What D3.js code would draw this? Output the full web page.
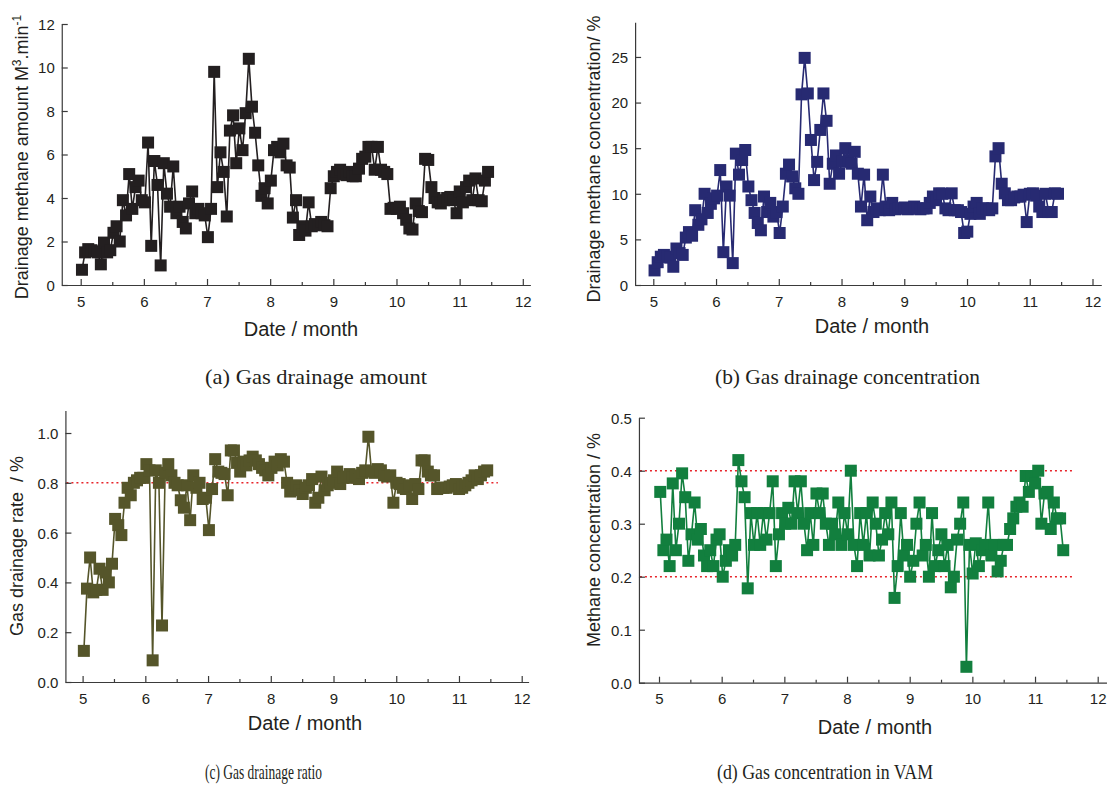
<!DOCTYPE html>
<html>
<head>
<meta charset="utf-8">
<script src="https://cdn.jsdelivr.net/npm/d3@7"></script>
<style>
	body { margin: 0; background: #fff; }
	svg { display: block; }
	.tick text { font-family: "Liberation Sans", Arial, sans-serif; font-size: 15px; fill: #231f20; }
	.domain, .tick line { stroke: #3a3a3a; stroke-width: 1.2; }
	.ttl { font-family: "Liberation Sans", Arial, sans-serif; fill: #231f20; }
	.cap { font-family: "Liberation Serif", "Times New Roman", serif; fill: #231f20; }
</style>
</head>
<body>
<svg id="fig" width="1108" height="785"></svg>
<script>
"use strict";

// Sampling dates (month.fraction), first and last record
var dateStart = 5.02, dateEnd = 11.45;

var monthTicks = [5, 6, 7, 8, 9, 10, 11, 12];
var monthMinor = [5.5, 6.5, 7.5, 8.5, 9.5, 10.5, 11.5];

// (a) drainage methane amount, m3/min
var amountVals = [0.7,1.5,1.65,1.6,1.55,1.5,0.95,1.95,1.5,1.6,
	2.4,2.7,2.0,3.9,3.2,5.1,3.5,4.5,4.8,3.9,
	3.8,6.55,1.8,5.7,4.6,0.9,5.6,4.2,3.6,5.45,
	3.3,3.6,2.9,2.6,3.75,4.3,3.3,3.5,3.3,3.2,
	2.2,3.5,9.8,4.5,6.1,5.2,3.15,7.1,7.8,5.6,
	7.2,6.2,7.9,10.4,8.2,7.0,5.5,4.1,4.45,3.75,
	4.8,6.2,6.35,6.1,6.5,5.5,5.4,3.1,3.9,2.3,
	2.7,2.5,3.8,2.7,2.8,2.75,2.9,2.75,2.7,4.45,
	5.0,5.2,5.3,5.1,5.05,5.2,5.0,5.0,5.35,5.8,
	5.9,6.35,6.35,5.3,6.35,5.3,5.2,5.1,3.5,3.55,
	3.5,3.6,3.3,3.0,2.6,2.55,3.75,3.4,3.35,5.8,
	5.75,4.5,4.0,3.8,3.75,3.9,4.0,4.05,3.9,3.3,
	4.3,3.8,4.5,4.8,3.9,4.9,3.9,3.85,4.8,5.2];
var amountTicks = [0, 2, 4, 6, 8, 10, 12];

// (b) drainage methane concentration, %
var concVals = [1.6,2.5,3.1,3.3,3.1,3.0,2.0,4.0,3.5,3.3,
	5.2,5.8,5.4,8.2,6.6,7.2,10.0,7.9,8.9,9.5,
	9.8,12.6,3.6,10.8,9.8,2.4,14.4,12.1,13.7,14.8,
	10.8,9.3,7.9,6.8,6.0,9.7,8.0,9.0,7.5,8.0,
	5.7,8.6,12.2,13.2,11.9,10.6,10.0,20.9,24.9,21.0,
	15.9,11.5,13.5,17.0,21.0,18.0,11.1,13.3,14.2,12.2,
	13.5,15.0,13.7,13.3,14.6,12.2,8.6,12.1,7.1,9.7,
	8.0,8.4,8.2,12.1,8.6,8.2,9.0,8.3,8.4,8.4,
	8.5,8.3,8.4,8.6,8.4,8.3,8.4,8.4,9.0,9.7,
	9.3,10.05,10.0,8.4,8.2,10.05,8.2,8.2,8.0,5.7,
	5.85,7.8,8.6,9.0,7.8,8.4,8.4,8.2,8.4,14.1,
	15.0,11.1,10.05,9.3,9.3,9.6,9.7,9.7,9.9,6.9,
	10.0,10.05,9.8,8.6,8.0,10.0,8.0,8.0,10.05,10.0];
var concTicks = [0, 5, 10, 15, 20, 25];

// (c) gas drainage ratio
var ratioVals = [0.125,0.375,0.50,0.36,0.37,0.455,0.37,0.44,0.40,0.475,
	0.655,0.63,0.59,0.72,0.78,0.75,0.80,0.81,0.82,0.82,
	0.875,0.85,0.087,0.85,0.80,0.227,0.84,0.875,0.83,0.80,
	0.79,0.73,0.70,0.79,0.65,0.83,0.78,0.80,0.735,0.74,
	0.61,0.775,0.895,0.845,0.84,0.835,0.75,0.93,0.93,0.88,
	0.845,0.885,0.87,0.89,0.905,0.89,0.875,0.86,0.85,0.83,
	0.86,0.885,0.87,0.895,0.885,0.80,0.765,0.78,0.79,0.77,
	0.755,0.78,0.79,0.815,0.72,0.74,0.825,0.77,0.79,0.80,
	0.81,0.845,0.795,0.82,0.825,0.835,0.82,0.83,0.815,0.84,
	0.85,0.985,0.845,0.84,0.855,0.85,0.83,0.825,0.83,0.72,
	0.80,0.795,0.78,0.775,0.79,0.735,0.795,0.775,0.89,0.89,
	0.845,0.83,0.83,0.775,0.78,0.78,0.78,0.785,0.79,0.795,
	0.775,0.78,0.79,0.80,0.81,0.83,0.815,0.83,0.845,0.85];
var ratioTicks = [0, 0.2, 0.4, 0.6, 0.8, 1.0];
var ratioRefs = [0.8];

// (d) methane concentration in ventilation air, %
var vamVals = [0.36,0.25,0.27,0.22,0.376,0.25,0.30,0.395,0.35,0.23,
	0.28,0.34,0.27,0.29,0.24,0.22,0.25,0.22,0.27,0.28,
	0.20,0.23,0.25,0.24,0.26,0.42,0.38,0.35,0.178,0.32,
	0.26,0.32,0.26,0.32,0.27,0.32,0.38,0.22,0.28,0.32,
	0.30,0.33,0.30,0.38,0.32,0.38,0.30,0.25,0.32,0.26,
	0.357,0.32,0.357,0.30,0.26,0.30,0.28,0.34,0.26,0.32,
	0.28,0.40,0.26,0.22,0.32,0.26,0.32,0.24,0.34,0.30,
	0.24,0.27,0.32,0.28,0.34,0.16,0.22,0.32,0.24,0.26,
	0.20,0.23,0.30,0.34,0.24,0.26,0.20,0.32,0.22,0.25,
	0.28,0.22,0.26,0.18,0.20,0.27,0.30,0.34,0.03,0.26,
	0.206,0.263,0.22,0.25,0.26,0.34,0.24,0.26,0.21,0.23,
	0.26,0.26,0.29,0.31,0.332,0.34,0.332,0.39,0.36,0.39,
	0.376,0.40,0.30,0.357,0.36,0.29,0.34,0.31,0.31,0.25];
var vamTicks = [0, 0.1, 0.2, 0.3, 0.4, 0.5];
var vamRefs = [0.2, 0.4];

var svg = d3.select('#fig');

// Draw one panel; geometry is given as pixel positions of month 5 and 12
function drawPanel(p) {
	var k = (p.x12 - p.x5) / 7;
	var x = d3.scaleLinear().domain(p.xDom).
		range([p.x5 + (p.xDom[0] - 5) * k, p.x5 + (p.xDom[1] - 5) * k]);
	var y = d3.scaleLinear().domain(p.yDom).range(p.yRange);
	var g = svg.append('g');
	var step = (dateEnd - dateStart) / (p.vals.length - 1);
	var pts = p.vals.map(function(v, i) { return [dateStart + i * step, v]; });

	// reference lines
	(p.refs || []).forEach(function(r) {
		g.append('line').attr('x1', x(p.xDom[0]) + 1).attr('x2', x(11.62)).
			attr('y1', y(r)).attr('y2', y(r)).
			style('stroke', '#e8242b').style('stroke-width', 1.6).style('stroke-dasharray', '2,3');
	});

	// axes
	var yAxis = g.append('g').attr('transform', 'translate(' + x(p.xDom[0]) + ',0)').
		call(d3.axisLeft(y).tickValues(p.yTicks).tickFormat(p.yFmt).tickSizeInner(-6).tickSizeOuter(0).tickPadding(7));
	yAxis.selectAll('text').attr('dy', '0.36em');
	g.append('g').attr('transform', 'translate(0,' + y(0) + ')').
		call(d3.axisBottom(x).tickValues(monthTicks).tickSizeInner(-6).tickSizeOuter(0).tickPadding(11));
	g.append('g').attr('transform', 'translate(0,' + y(0) + ')').
		call(d3.axisBottom(x).tickValues(monthMinor).tickFormat('').tickSizeInner(-3).tickSizeOuter(0)).
		select('.domain').remove();

	// series
	var line = d3.line().x(function(d) { return x(d[0]); }).y(function(d) { return y(d[1]); });
	g.append('path').datum(pts).attr('d', line).
		style('fill', 'none').style('stroke', p.color).style('stroke-width', 1.6);
	var s = 12;
	g.selectAll('rect.pt').data(pts).enter().append('rect').attr('class', 'pt').
		attr('x', function(d) { return x(d[0]) - s / 2; }).attr('y', function(d) { return y(d[1]) - s / 2; }).
		attr('width', s).attr('height', s).style('fill', p.color);

	// titles
	g.append('text').attr('class', 'ttl').attr('x', p.xt[0]).attr('y', p.xt[1]).
		attr('text-anchor', 'middle').style('font-size', '20px').text('Date / month');
	var yt = g.append('text').attr('class', 'ttl').attr('text-anchor', 'middle').
		attr('transform', 'translate(' + p.yt[0] + ',' + p.yt[1] + ') rotate(-90)').
		attr('dy', '0.35em').style('font-size', '18px');
	p.yTitle.forEach(function(part) {
		var t = yt.append('tspan').text(part.t);
		if (part.dy) t.attr('dy', part.dy);
		if (part.small) t.style('font-size', '12px');
	});

	var cap = svg.append('text').attr('class', 'cap').attr('x', p.cap[0]).attr('y', p.cap[1]).
		style('font-size', '21px').text(p.caption);
	if (p.capW) cap.attr('textLength', p.capW).attr('lengthAdjust', 'spacingAndGlyphs');
}

drawPanel({
	vals: amountVals, color: '#231f20',
	x5: 80.7, x12: 522.8, xDom: [4.7, 12.12],
	yDom: [0, 12], yRange: [285, 24], yTicks: amountTicks, yFmt: d3.format('d'),
	xt: [301, 336], yt: [22, 157],
	yTitle: [{t: 'Drainage methane amount M'}, {t: '3', dy: -7, small: true},
		{t: '.min', dy: 7}, {t: '-1', dy: -7, small: true}],
	caption: '(a) Gas drainage amount', cap: [205, 384], capW: 222
});

drawPanel({
	vals: concVals, color: '#272a72',
	x5: 653.3, x12: 1092.5, xDom: [4.71, 12.14],
	yDom: [0, 28.8], yRange: [285, 22.3], yTicks: concTicks, yFmt: d3.format('d'),
	xt: [872, 333], yt: [594, 159],
	yTitle: [{t: 'Drainage methane concentration/ %'}],
	caption: '(b) Gas drainage concentration', cap: [715, 384], capW: 265
});

drawPanel({
	vals: ratioVals, color: '#55552a', refs: ratioRefs,
	x5: 82.6, x12: 521.7, xDom: [4.726, 12.11],
	yDom: [0, 1.09], yRange: [682, 410.6], yTicks: ratioTicks, yFmt: d3.format('.1f'),
	xt: [305, 730], yt: [17, 546],
	yTitle: [{t: 'Gas drainage rate \u00a0/ %'}],
	caption: '(c) Gas drainage ratio', cap: [205, 779], capW: 117
});

drawPanel({
	vals: vamVals, color: '#127f3e', refs: vamRefs,
	x5: 659, x12: 1097.7, xDom: [4.68, 12.14],
	yDom: [0, 0.5], yRange: [682.7, 417.7], yTicks: vamTicks, yFmt: d3.format('.1f'),
	xt: [875, 734], yt: [594, 540],
	yTitle: [{t: 'Methane concentration / %'}],
	caption: '(d) Gas concentration in VAM', cap: [717, 779], capW: 216
});
</script>
</body>
</html>
